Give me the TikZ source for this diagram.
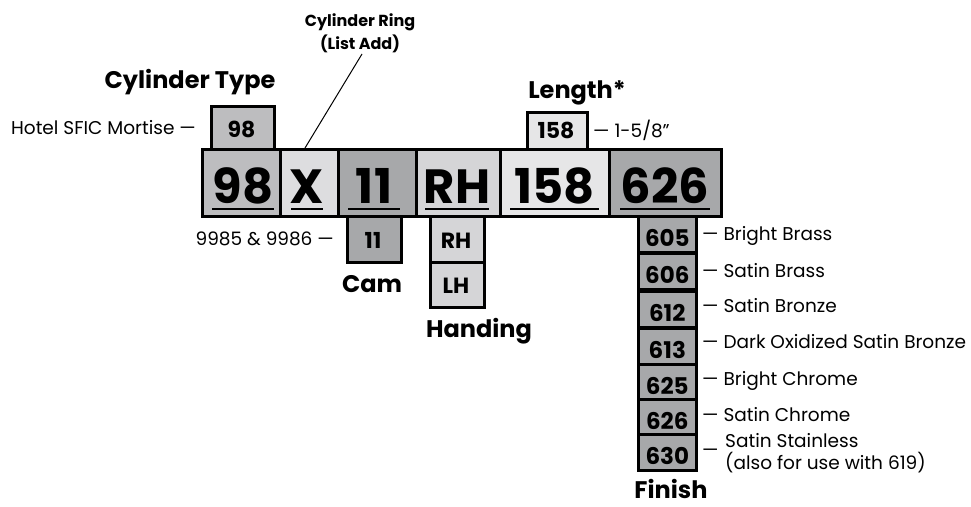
\documentclass[tikz,border=0pt]{standalone}
\usepackage{fontspec}
\setmainfont{Poppins}
\definecolor{gA}{RGB}{189,189,191}
\definecolor{gB}{RGB}{221,221,223}
\definecolor{gC}{RGB}{167,168,170}
\definecolor{gD}{RGB}{213,213,215}
\definecolor{gE}{RGB}{230,230,231}
\tikzset{
  cell/.style={draw=black, line width=2.6pt, inner sep=0pt, anchor=north west},
  bignum/.style={font=\bfseries\fontsize{48}{48}\selectfont, inner sep=0pt, anchor=base},
  smallnum/.style={font=\bfseries\fontsize{22}{22}\selectfont, inner sep=0pt, anchor=base},
  finnum/.style={font=\bfseries\fontsize{23}{23}\selectfont, inner sep=0pt, anchor=base},
  title/.style={font=\bfseries\fontsize{24}{24}\selectfont, inner sep=0pt, anchor=base},
  lbl/.style={font=\fontsize{18.5}{22}\selectfont, inner sep=0pt},
  uline/.style={line width=2.4pt},
}
\begin{document}
\begin{tikzpicture}[x=1pt,y=-1pt]
\useasboundingbox (0,0) rectangle (971,506);
% ---- top small boxes
\node[cell, fill=gA, minimum width=63, minimum height=43] (s98) at (210,105) {};
\node[smallnum] at (241.5,137) {98};
\node[cell, fill=gE, minimum width=60, minimum height=37] (s158) at (526,111) {};
\node[smallnum] at (556,138) {158};
% ---- below small boxes
\node[cell, fill=gC, minimum width=54, minimum height=46] (s11) at (346,215) {};
\node[smallnum] at (373,248) {11};
\node[cell, fill=gD, minimum width=54, minimum height=46] (sRH) at (429,215) {};
\node[smallnum] at (456,248) {RH};
\node[cell, fill=gD, minimum width=54, minimum height=45] (sLH) at (429,261) {};
\node[smallnum] at (456,293) {LH};
% ---- finish column
\foreach \n/\y in {605/215,606/252,612/290,613/327,625/363,626/398,630/433}{
  \node[cell, fill=gC, minimum width=58, minimum height=36] (f\n) at (637,\y) {};
  \node[finnum] at ([yshift=7]f\n.south) {\n};
}
% ---- main row
\node[cell, fill=gA, minimum width=78, minimum height=67] (m98) at (201,148) {};
\node[cell, fill=gB, minimum width=58, minimum height=67] (mX) at (279,148) {};
\node[cell, fill=gC, minimum width=78, minimum height=67] (m11) at (337,148) {};
\node[cell, fill=gD, minimum width=84, minimum height=67] (mRH) at (415,148) {};
\node[cell, fill=gE, minimum width=109, minimum height=67] (m158) at (499,148) {};
\node[cell, fill=gC, minimum width=112, minimum height=67] (m626) at (608,148) {};
\node[bignum] (t98) at (243,203) {98};
\node[bignum] (tX) at (307,203) {X};
\node[bignum] (t11) at (374,203) {11};
\node[bignum] (tRH) at (457,203) {RH};
\node[bignum] (t158) at (554.5,203) {158};
\node[bignum] (t626) at (665,203) {626};
\draw[uline] (212,209) -- (274,209);
\draw[uline] (291,209) -- (323,209);
\draw[uline] (348,209) -- (400,209);
\draw[uline] (425,209) -- (489,209);
\draw[uline] (510,209) -- (599,209);
\draw[uline] (620,209) -- (710,209);
% ---- titles
\node[title] (tCyl) at (190,88) {Cylinder Type};
\node[title] (tLen) at (577,98) {Length*};
\node[title] (tCam) at (372,292) {Cam};
\node[title] (tHand) at (479,337) {Handing};
\node[title] (tFin) at (671,498) {Finish};
\node[font=\bfseries\fontsize{16}{22}\selectfont, inner sep=0pt, anchor=base] (ring1) at (360,27) {Cylinder Ring};
\node[font=\bfseries\fontsize{16}{22}\selectfont, inner sep=0pt, anchor=base] (ring2) at (360,49) {(List Add)};
\coordinate (ringfoot) at (362,54);
\draw[line width=1pt] (mX.north -| 305,0) -- (ringfoot);
% ---- labels
\node[lbl, anchor=base east] (lhotel) at (196,134) {Hotel SFIC Mortise —};
\node[lbl, anchor=base west] (llen) at (593,137) {— 1-5/8\symbol{34}};
\node[lbl, anchor=base east] (lcam) at (334,245) {9985 \& 9986 —};
\node[lbl, anchor=base west] at (702,240) {— Bright Brass};
\node[lbl, anchor=base west] at (702,277) {— Satin Brass};
\node[lbl, anchor=base west] at (702,312) {— Satin Bronze};
\node[lbl, anchor=base west] at (702,348) {— Dark Oxidized Satin Bronze};
\node[lbl, anchor=base west] at (702,385) {— Bright Chrome};
\node[lbl, anchor=base west] at (702,421) {— Satin Chrome};
\node[lbl, anchor=base west] at (702,456) {—};
\node[lbl, anchor=base west] at (725,447) {Satin Stainless};
\node[lbl, anchor=base west] at (725,469) {(also for use with 619)};
\end{tikzpicture}
\end{document}
